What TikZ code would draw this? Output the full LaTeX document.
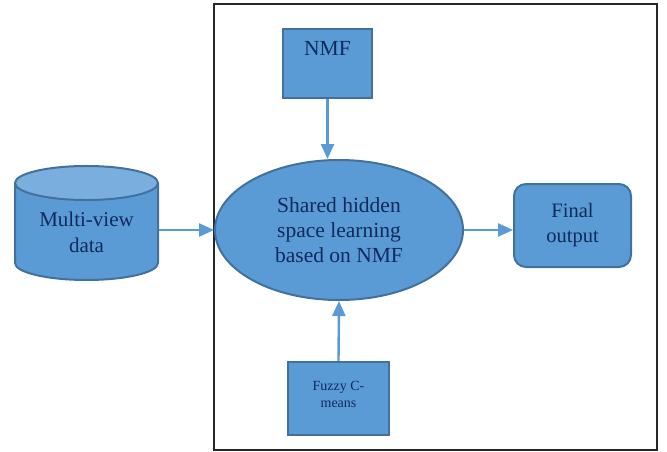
\documentclass[tikz,border=0pt]{standalone}
\usepackage{fontspec}
\setmainfont{Liberation Serif}
\usepackage{xcolor}
\definecolor{boxFill}{HTML}{5B9BD5}
\definecolor{boxLine}{HTML}{41719C}
\definecolor{cylTop}{HTML}{7AAEDE}
\definecolor{textNavy}{HTML}{102A5C}
\usepackage{tikz}
\usetikzlibrary{%
    shapes.geometric,
    arrows.meta,
    positioning
}

\begin{document}
\begin{tikzpicture}[x=1pt, y=-1pt,
                stage/.style={rectangle, fill=boxFill, draw=boxLine, line width=2pt, text=textNavy, align=center, inner sep=0pt, font=\fontsize{20.5}{25}\selectfont},
                store/.style={cylinder, shape border rotate=90, aspect=0.36, cylinder uses custom fill, cylinder body fill=boxFill, cylinder end fill=cylTop, draw=boxLine, line width=2pt, text=textNavy, align=center, inner sep=0pt, font=\fontsize{21}{26}\selectfont},
                learner/.style={ellipse, fill=boxFill, draw=boxLine, line width=2pt, text=textNavy, align=center, inner sep=0pt, font=\fontsize{21.5}{25}\selectfont},
                flow/.style={draw=boxFill, line width=2.4pt, -{Triangle[width=13pt,length=15pt]}}
            ]

            \useasboundingbox (0,0) rectangle (667,452);

            \node (frame) [draw=black!85, line width=1.2pt, minimum width=443pt, minimum height=446pt, inner sep=0pt] at (435.5,227) {};

            \node (mvdata) [store, minimum width=143pt, minimum height=114pt] at (86.5,232) {Multi-view\\data};

            \node (shared) [learner, minimum width=248pt, minimum height=140pt] at (339,230) {Shared hidden\\space learning\\based on NMF};

            \node (nmf) [stage, minimum width=89pt, minimum height=69pt, text height=14pt, text depth=29pt, font=\fontsize{21.5}{25}\selectfont] at (327.5,63.5) {NMF};

            \node (fuzzy) [stage, minimum width=101pt, minimum height=73pt, text height=18pt, text depth=1pt, font=\fontsize{14}{17}\selectfont] at (338.5,398.5) {Fuzzy C-\\means};

            \node (final) [stage, rounded corners=12pt, minimum width=117pt, minimum height=83pt] at (572.5,225.5) {Final\\output};

            % connectors
            \draw[flow] (mvdata.east |- shared.west) -- (shared.west);
            \draw[flow] (nmf.south) -- (nmf.south |- shared.north);
            \draw[flow] (fuzzy.north) -- (shared.south);
            \draw[flow] (shared.east) -- (final.west |- shared.east);
        \end{tikzpicture}
\end{document}
